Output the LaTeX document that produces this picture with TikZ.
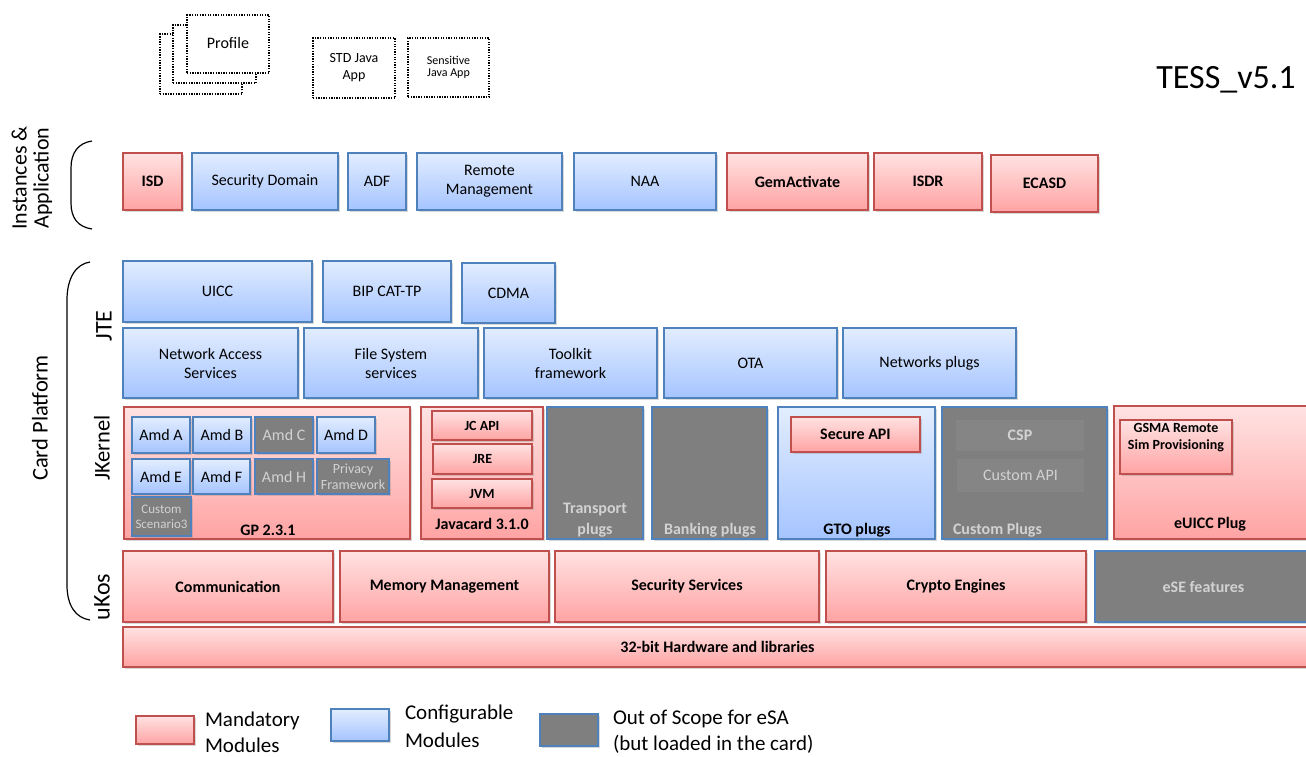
\documentclass[tikz,border=0pt]{standalone}
\usepackage{fontspec}
\setmainfont{Carlito}
\usetikzlibrary{shadows}
\definecolor{mandB}{HTML}{C0504D}
\definecolor{mandT}{HTML}{FFE2E2}
\definecolor{mandBot}{HTML}{FFA3A3}
\definecolor{confB}{HTML}{4F81BD}
\definecolor{confT}{HTML}{E2EDFF}
\definecolor{confBot}{HTML}{A5C4FF}
\definecolor{oosF}{HTML}{7F7F7F}
\definecolor{oosIn}{HTML}{858585}
\definecolor{oosT}{HTML}{D2D2D2}
\tikzset{
  base/.style={inner sep=1pt, outer sep=0pt, line width=1.3pt, align=center,
    font=\fontsize{16}{19}\selectfont,
    drop shadow={shadow xshift=1.5pt, shadow yshift=-2pt, opacity=0.3}},
  mand/.style={base, draw=mandB, top color=mandT, bottom color=mandBot,
    font=\bfseries\fontsize{16}{19}\selectfont},
  conf/.style={base, draw=confB, top color=confT, bottom color=confBot},
  oos/.style={base, draw=confB, fill=oosF, text=oosT},
  oosin/.style={inner sep=1pt, outer sep=0pt, align=center, fill=oosIn, text=oosT,
    font=\fontsize{16}{19}\selectfont,
    drop shadow={shadow xshift=1.5pt, shadow yshift=-2.5pt, opacity=0.45}},
  dotbox/.style={draw, line width=1.3pt, dash pattern=on 1.3pt off 1.3pt,
    fill=white, inner sep=0pt, outer sep=0pt},
  lbl/.style={inner sep=0pt, outer sep=0pt, align=center},
  side/.style={lbl, rotate=90, font=\fontsize{22.5}{26}\selectfont},
  brack/.style={line width=1.2pt},
}
\newcommand\modbox[8][]{\pgfmathsetmacro\bxw{#6-#4}\pgfmathsetmacro\bxh{#7-#5}%
  \node[#3, minimum width=\bxw pt, minimum height=\bxh pt, anchor=north west, #1] (#2) at (#4,#5) {#8};}
\begin{document}
\begin{tikzpicture}[x=1pt,y=-1pt]
\useasboundingbox (0,0) rectangle (1306,756);
\fill[white] (0,0) rectangle (1306,756);
% top dotted boxes
\modbox{prof3}{dotbox}{160}{34}{242}{94}{}
\modbox{prof2}{dotbox}{173}{25}{256}{83}{}
\modbox{prof1}{dotbox}{187}{15}{269}{73}{}
\node[lbl, font=\fontsize{16}{19}\selectfont] (proftxt) at (228,43) {Profile};
\modbox[font=\fontsize{14}{17}\selectfont, align=center]{stdjava}{dotbox}{313}{38}{395}{98}{STD Java\\App}
\modbox[font=\fontsize{12}{12}\selectfont, align=center]{sensjava}{dotbox}{408}{38}{489}{97}{Sensitive\\Java App}
\node[lbl, font=\fontsize{34}{40}\selectfont] (tess) at (1226,80) {TESS\_v5.1};
% side labels and brackets
\node[side, font=\fontsize{22}{22}\selectfont] (lblinst) at (32,178) {Instances \&\\Application};
\draw[brack] (92,141) .. controls (78,143) and (71,153) .. (71,168) -- (71,203) .. controls (71,218) and (78,227) .. (92,229);
\node[side] (lblcp) at (40,418) {Card Platform};
\draw[brack] (90,262) .. controls (76,264) and (67,278) .. (67,300) -- (67,585) .. controls (67,606) and (76,618) .. (90,620);
\node[side, font=\fontsize{24}{26}\selectfont] (lbljte) at (104,326) {JTE};
\node[side] (lbljk) at (102,448) {JKernel};
\node[side, font=\fontsize{24}{26}\selectfont] (lbluk) at (102,597) {uKos};
% instances & application
\modbox{isd}{mand}{123}{153}{182}{210}{ISD}
\modbox{sd}{conf}{192}{153}{338}{210}{Security Domain}
\modbox{adf}{conf}{348}{153}{406}{210}{ADF}
\modbox{rm}{conf}{417}{153}{562}{210}{Remote\\Management}
\modbox{naa}{conf}{574}{153}{716}{210}{NAA}
\modbox{gem}{mand}{727}{153}{868}{210}{GemActivate}
\modbox{isdr}{mand}{874}{153}{982}{210}{ISDR}
\modbox{ecasd}{mand}{991}{155}{1098}{212}{ECASD}
% JTE
\modbox{uicc}{conf}{123}{261}{312}{322}{UICC}
\modbox{bip}{conf}{323}{261}{451}{322}{BIP CAT-TP}
\modbox{cdma}{conf}{462}{263}{555}{323}{CDMA}
\modbox{nas}{conf}{123}{328}{298}{398}{Network Access\\Services}
\modbox{fs}{conf}{304}{328}{478}{398}{File System\\services}
\modbox{tk}{conf}{484}{328}{657}{398}{Toolkit\\framework}
\modbox{ota}{conf}{664}{328}{837}{398}{OTA}
\modbox{np}{conf}{843}{328}{1016}{398}{Networks plugs}
% JKernel
\modbox{gp}{mand}{124}{407}{410}{539}{}
\modbox{amda}{conf}{132}{417}{190}{453}{Amd A}
\modbox{amdb}{conf}{193}{417}{251}{453}{Amd B}
\modbox{amdc}{oos}{255}{417}{313}{453}{Amd C}
\modbox{amdd}{conf}{317}{417}{375}{453}{Amd D}
\modbox{amde}{conf}{132}{459}{190}{494}{Amd E}
\modbox{amdf}{conf}{193}{459}{250}{494}{Amd F}
\modbox{amdh}{oos}{255}{459}{313}{494}{Amd H}
\modbox[font=\fontsize{14}{16}\selectfont]{priv}{oos}{317}{459}{389}{494}{Privacy\\Framework}
\modbox[font=\fontsize{13}{15}\selectfont]{cs3}{oos}{132}{497}{191}{536}{Custom\\Scenario3}
\node[lbl, font=\bfseries\fontsize{16}{19}\selectfont] (gptxt) at (268,530) {GP 2.3.1};
\modbox{jc}{mand}{421}{407}{543}{539}{}
\modbox[font=\bfseries\fontsize{14}{15}\selectfont]{jcapi}{mand}{432}{411}{532}{440}{JC API}
\modbox[font=\bfseries\fontsize{14}{15}\selectfont]{jre}{mand}{433}{444}{532}{474}{JRE}
\modbox[font=\bfseries\fontsize{14}{15}\selectfont]{jvm}{mand}{432}{479}{532}{508}{JVM}
\node[lbl, font=\bfseries\fontsize{16}{19}\selectfont] (jctxt) at (482,524) {Javacard 3.1.0};
\modbox{trans}{oos}{547}{407}{643}{539}{}
\node[lbl, text=oosT, font=\bfseries\fontsize{16}{21}\selectfont] (transtxt) at (595,520) {Transport\\plugs};
\modbox{bank}{oos}{652}{407}{767}{539}{}
\node[lbl, text=oosT, font=\bfseries\fontsize{16}{19}\selectfont] (banktxt) at (710,530) {Banking plugs};
\modbox{gto}{conf}{778}{407}{935}{539}{}
\modbox{sapi}{mand}{791}{417}{920}{452}{Secure API}
\node[lbl, font=\bfseries\fontsize{16}{19}\selectfont] (gtotxt) at (857,530) {GTO plugs};
\modbox{cust}{oos}{942}{407}{1107}{539}{}
\modbox[font=\bfseries\fontsize{16}{19}\selectfont]{csp}{oosin}{956}{420}{1084}{451}{CSP}
\modbox{capi}{oosin}{957}{459}{1084}{492}{Custom API}
\node[lbl, anchor=west, text=oosT, font=\bfseries\fontsize{16}{19}\selectfont] (custtxt) at (953,530) {Custom Plugs};
\modbox{euicc}{mand}{1114}{406}{1312}{539}{}
\modbox{gsma}{mand}{1120}{420}{1232}{474}{}
\node[lbl, font=\bfseries\fontsize{14}{17}\selectfont] (gsmatxt) at (1176,438) {GSMA Remote\\Sim Provisioning};
\node[lbl, font=\bfseries\fontsize{16}{19}\selectfont] (euicctxt) at (1210,524) {eUICC Plug};
% uKos
\modbox{comm}{mand}{123}{551}{333}{622}{Communication}
\modbox{mm}{mand}{340}{551}{549}{622}{Memory Management}
\modbox{ss}{mand}{555}{551}{819}{622}{Security Services}
\modbox{ce}{mand}{826}{551}{1086}{622}{Crypto Engines}
\modbox[font=\bfseries\fontsize{16}{19}\selectfont]{ese}{oos}{1095}{551}{1312}{622}{eSE features}
\modbox{hw}{mand}{123}{627}{1312}{667}{32-bit Hardware and libraries}
% legend
\modbox{legm}{mand}{136}{716}{194}{744}{}
\node[lbl, anchor=west, align=left, font=\fontsize{21}{26}\selectfont] (legmtxt) at (205,732) {Mandatory\\Modules};
\modbox{legc}{conf}{331}{709}{389}{741}{}
\node[lbl, anchor=west, align=left, font=\fontsize{21}{28}\selectfont] (legctxt) at (405,726) {Configurable\\Modules};
\modbox{lego}{oos}{540}{714}{598}{746}{}
\node[lbl, anchor=west, align=left, font=\fontsize{21}{26}\selectfont] (legotxt) at (613,732) {Out of Scope for eSA\\(but loaded in the card)};
\end{tikzpicture}
\end{document}
